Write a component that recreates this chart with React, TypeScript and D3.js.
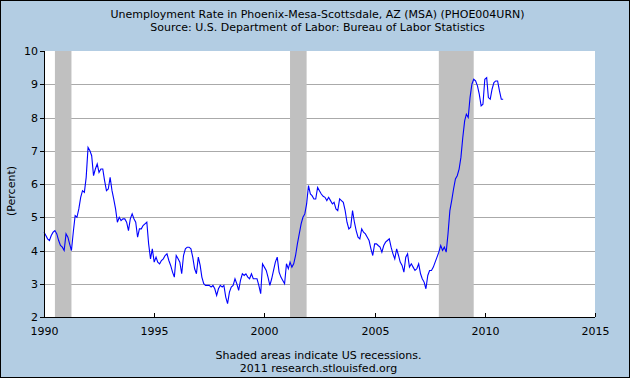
import React from "react";
import * as d3 from "d3";

const W = 630;
const H = 378;
const M = { left: 44, right: 595, top: 51, bottom: 317 };

const titleLines = [
  "Unemployment Rate in Phoenix-Mesa-Scottsdale, AZ (MSA) (PHOE004URN)",
  "Source: U.S. Department of Labor: Bureau of Labor Statistics",
];
const footerLines = ["Shaded areas indicate US recessions.", "2011 research.stlouisfed.org"];
const yLabel = "(Percent)";

const firstYear = 1990;
const yTicks = [2, 3, 4, 5, 6, 7, 8, 9, 10];
const gridValues = [3, 4, 5, 6, 7, 8, 9];
const xTicks = [1990, 1995, 2000, 2005, 2010, 2015];

const recessions: [string, string][] = [
  ["1990-07-01", "1991-04-01"],
  ["2001-03-01", "2001-12-01"],
  ["2007-12-01", "2009-07-01"],
];

// Monthly values, Jan 1990 onward
const rate1990_1994 = [
  4.55, 4.45, 4.35, 4.3, 4.45, 4.55, 4.6, 4.5, 4.3, 4.15, 4.1, 4.0,
  4.5, 4.4, 4.2, 4.0, 4.55, 5.05, 5.0, 5.25, 5.6, 5.8, 5.75, 6.2,
  7.1, 7.0, 6.85, 6.25, 6.45, 6.6, 6.35, 6.45, 6.45, 6.1, 5.8, 5.85,
  6.2, 5.8, 5.55, 5.25, 4.85, 5.0, 4.9, 4.95, 4.95, 4.85, 4.6, 4.95,
  5.1, 4.95, 4.85, 4.4, 4.65, 4.65, 4.75, 4.8, 4.85, 4.2, 3.75, 4.05,
];
const rate1995_1999 = [
  3.65, 3.8, 3.65, 3.6, 3.7, 3.75, 3.85, 3.9, 3.7, 3.55, 3.35, 3.2,
  3.85, 3.75, 3.65, 3.3, 3.85, 4.05, 4.1, 4.1, 4.05, 3.8, 3.45, 3.3,
  3.8, 3.55, 3.2, 3.0, 2.95, 2.95, 2.95, 2.9, 2.95, 2.85, 2.65, 2.85,
  2.95, 2.9, 2.95, 2.6, 2.4, 2.75, 2.9, 2.95, 3.15, 3.0, 2.8, 3.1,
  3.3, 3.25, 3.3, 3.2, 3.15, 3.3, 3.15, 3.15, 3.15, 2.95, 2.7, 3.6,
];
const rate2000_2004 = [
  3.5, 3.4, 3.2, 2.95, 3.15, 3.4, 3.65, 3.8, 3.35, 3.2, 3.1, 3.0,
  3.6, 3.45, 3.65, 3.5, 3.6, 3.85, 4.2, 4.5, 4.8, 5.0, 5.1, 5.4,
  5.95, 5.7, 5.65, 5.55, 5.55, 5.9, 5.8, 5.7, 5.63, 5.6, 5.5, 5.6,
  5.5, 5.4, 5.45, 5.25, 5.2, 5.55, 5.5, 5.45, 5.2, 4.85, 4.65, 4.7,
  5.2, 4.85, 4.6, 4.4, 4.35, 4.65, 4.55, 4.5, 4.4, 4.3, 4.05, 3.85,
];
const rate2005_2010 = [
  4.2, 4.2, 4.15, 4.1, 3.95, 4.15, 4.25, 4.3, 4.35, 4.1, 3.9, 3.75,
  4.05, 3.85, 3.65, 3.55, 3.35, 3.8, 3.9, 3.5, 3.6, 3.5, 3.4, 3.45,
  3.6, 3.3, 3.15, 3.05, 2.85, 3.25, 3.4, 3.4, 3.5, 3.65, 3.8, 3.95,
  4.15, 4.0, 4.1, 3.95, 4.5, 5.2, 5.5, 5.85, 6.15, 6.25, 6.45, 6.8,
  7.4, 7.9, 8.1, 8.0, 8.6, 9.0, 9.15, 9.1, 8.95, 8.7, 8.35, 8.4,
  9.15, 9.2, 8.6, 8.55, 8.85, 9.05, 9.1, 9.1, 8.8, 8.55, 8.55,
];

const rates = [...rate1990_1994, ...rate1995_1999, ...rate2000_2004, ...rate2005_2010];
const data = rates.map((v, i) => ({ date: new Date(firstYear, i, 1), value: v }));

const FONT = "'DejaVu Sans', Verdana, sans-serif";

export default function App() {
  const x = d3
    .scaleTime()
    .domain([new Date(1990, 0, 1), new Date(2015, 0, 1)])
    .range([M.left, M.right]);
  const y = d3.scaleLinear().domain([2, 10]).range([M.bottom, M.top]);

  const line = d3
    .line<{ date: Date; value: number }>()
    .x((d) => x(d.date))
    .y((d) => y(d.value));

  const cx = (M.left + M.right) / 2;

  return (
    <svg
      width={W}
      height={H}
      style={{ position: "absolute", left: 0, top: 0 }}
      fontFamily={FONT}
    >
      <rect x={0.5} y={0.5} width={W - 1} height={H - 1} fill="#B3CDE3" stroke="#000" />
      <rect x={M.left} y={M.top} width={M.right - M.left} height={M.bottom - M.top} fill="#fff" />
      {gridValues.map((g) => (
        <line
          key={g}
          x1={M.left}
          x2={M.right}
          y1={Math.round(y(g)) + 0.5}
          y2={Math.round(y(g)) + 0.5}
          stroke="#AAAAAA"
          strokeWidth={1}
        />
      ))}
      {recessions.map(([s, e]) => (
        <rect
          key={s}
          x={x(new Date(s))}
          y={M.top}
          width={x(new Date(e)) - x(new Date(s))}
          height={M.bottom - M.top}
          fill="#C0C0C0"
        />
      ))}
      <path d={line(data) || ""} fill="none" stroke="#0000FF" strokeWidth={1.1} />
      {/* axes */}
      <line x1={M.left + 0.5} x2={M.left + 0.5} y1={M.top} y2={M.bottom + 0.5} stroke="#000" />
      <line x1={M.left} x2={M.right} y1={M.bottom + 0.5} y2={M.bottom + 0.5} stroke="#000" />
      {yTicks.map((t) => (
        <g key={t}>
          <line x1={M.left - 4} x2={M.left} y1={Math.round(y(t)) + 0.5} y2={Math.round(y(t)) + 0.5} stroke="#000" />
          <text x={38} y={y(t) + 4} textAnchor="end" fontSize={11} fill="#000">
            {t}
          </text>
        </g>
      ))}
      {xTicks.map((t) => {
        const xp = Math.round(x(new Date(t, 0, 1))) + 0.5;
        return (
          <g key={t}>
            <line x1={xp} x2={xp} y1={M.bottom - 4} y2={M.bottom} stroke="#000" />
            <text x={xp} y={335} textAnchor="middle" fontSize={11} fill="#000">
              {t}
            </text>
          </g>
        );
      })}
      <text
        transform={`translate(15, 191) rotate(-90)`}
        textAnchor="middle"
        fontSize={11}
        fill="#000"
      >
        {yLabel}
      </text>
      {titleLines.map((t, i) => (
        <text key={i} x={cx - 2} y={18 + i * 12.5} textAnchor="middle" fontSize={11} fill="#000">
          {t}
        </text>
      ))}
      {footerLines.map((t, i) => (
        <text key={i} x={cx - 1} y={359 + i * 13} textAnchor="middle" fontSize={11} fill="#000">
          {t}
        </text>
      ))}
    </svg>
  );
}
